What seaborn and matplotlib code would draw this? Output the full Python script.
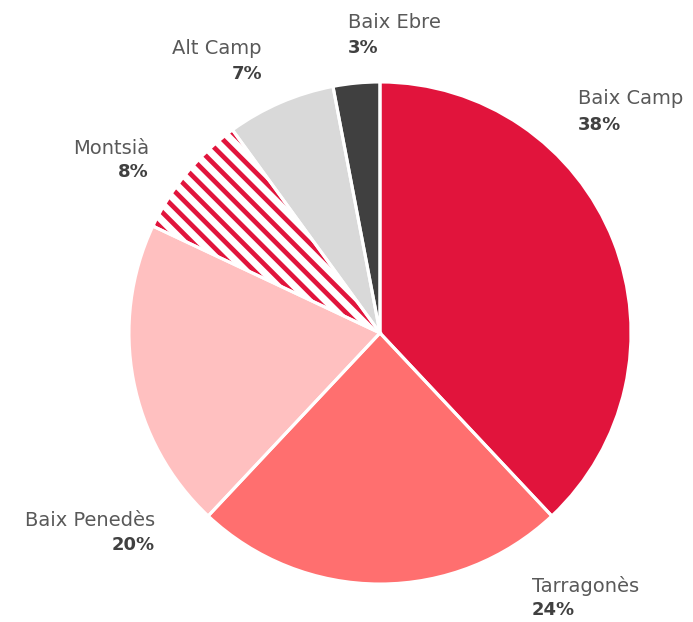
import numpy as np
import matplotlib
matplotlib.use('Agg')
import matplotlib.pyplot as plt
import seaborn as sns

# data
regions = ['Baix Camp', 'Tarragonès', 'Baix Penedès', 'Montsià', 'Alt Camp', 'Baix Ebre']
shares = [38, 24, 20, 8, 7, 3]
slice_colors = ['#E1143C', '#FF6F6F', '#FFC0C0', '#FFFFFF', '#D9D9D9', '#404040']
hatched = [False, False, False, True, False, False]

# label layout (pixels from top-left): x anchor, name line y, percent line y, alignment
label_pos = [(578, 99, 125, 'left'), (532, 586, 610, 'left'), (155, 521, 545, 'right'),
             (149, 148, 172, 'right'), (262, 48, 74, 'right'), (348, 22, 48, 'left')]

sns.set_theme(style='white')
plt.rcParams['font.family'] = ['DejaVu Sans']
plt.rcParams['hatch.linewidth'] = 3.4

W, H = 693, 622
fig = plt.figure(figsize=(W / 100, H / 100), dpi=100)
ax = fig.add_axes([0, 0, 1, 1])
ax.set_xlim(0, W)
ax.set_ylim(0, H)
ax.axis('off')

center = (380, H - 333)
radius = 251

wedges, _ = ax.pie(shares, colors=slice_colors, startangle=90, counterclock=False,
                   center=center, radius=radius, wedgeprops=dict(linewidth=0))
for w, h in zip(wedges, hatched):
    if h:
        w.set_hatch('\\\\')
        w.set_edgecolor('#E1143C')

# white separators on top
ax.pie(shares, colors=['none'] * len(shares), startangle=90, counterclock=False,
       center=center, radius=radius,
       wedgeprops=dict(linewidth=2.2, edgecolor='white', facecolor='none'))

for name, val, (x, y1, y2, ha) in zip(regions, shares, label_pos):
    ax.text(x, H - y1, name, ha=ha, va='center', fontsize=14, color='#595959')
    ax.text(x, H - y2, f'{val}%', ha=ha, va='center', fontsize=13, color='#404040',
            fontweight='bold')

ax.set_xlim(0, W)
ax.set_ylim(0, H)
fig.savefig('out.png', dpi=100)
